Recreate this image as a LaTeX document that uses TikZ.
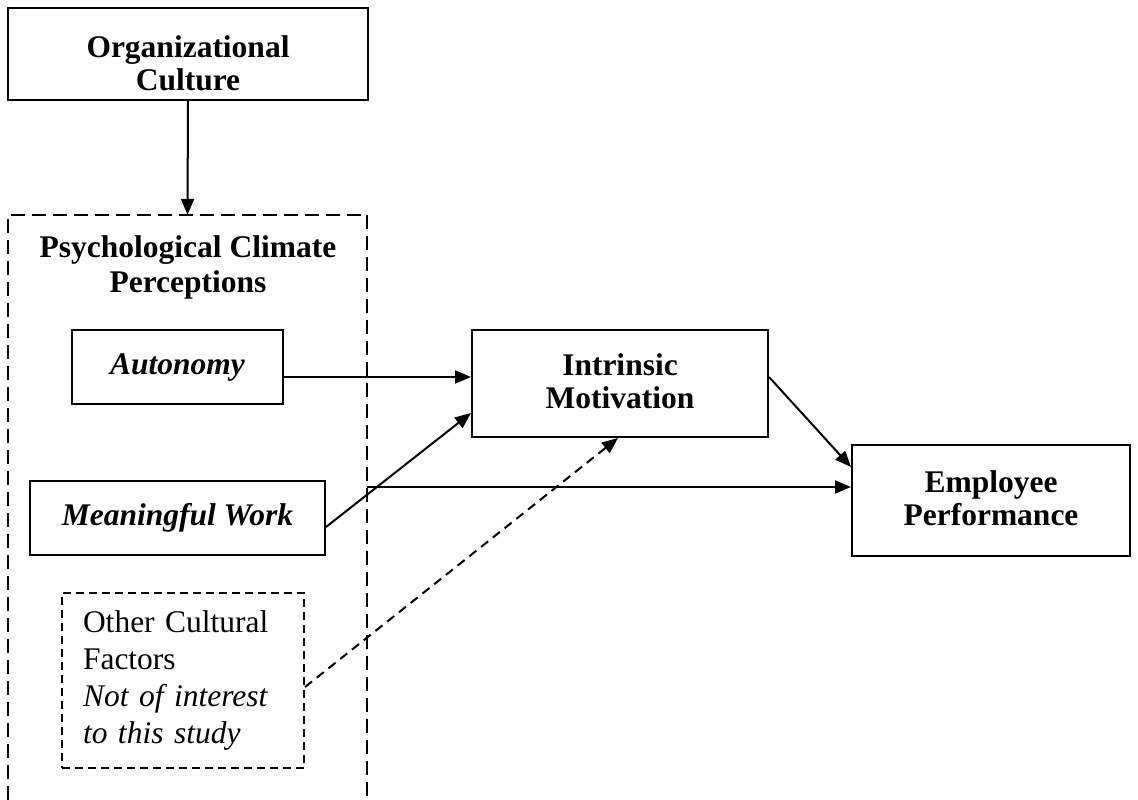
\documentclass[tikz,border=0pt]{standalone}
\usepackage{fontspec}
\setmainfont{Liberation Serif}
\usetikzlibrary{arrows.meta}
\tikzset{
  box/.style={draw, line width=2pt, rectangle, inner sep=0pt, align=center,
    font=\fontsize{31.5}{35}\selectfont\bfseries},
  lbl/.style={inner sep=0pt, align=center, font=\fontsize{31.5}{33}\selectfont\bfseries},
  conn/.style={line width=2pt, -{Triangle[length=16pt,width=13pt]}},
  bigdash/.style={line width=2pt, dash pattern=on 14pt off 7pt},
  smalldash/.style={line width=2pt, dash pattern=on 8pt off 5pt},
}
\begin{document}
\begin{tikzpicture}[x=1pt,y=-1pt]
\useasboundingbox (0,0) rectangle (1138,800);
\fill[white] (0,0) rectangle (1138,800);
\node[box, minimum width=360pt, minimum height=92pt] (org) at (188,54) {};
\node[lbl] (orgt) at (188,63) {Organizational\\Culture};
% big dashed region (extends past bottom)
\node[inner sep=0pt, minimum width=359pt, minimum height=600pt] (psyc) at (187.5,515) {};
\draw[bigdash] (psyc.west |- 0,800) -- (psyc.north west) -- (psyc.north east) -- (psyc.east |- 0,800);
\node[font=\fontsize{31.5}{35}\selectfont\bfseries, align=center] (psyt) at (188,267) {Psychological Climate\\Perceptions};
\node[box, font=\fontsize{31.5}{35}\selectfont\bfseries\itshape, minimum width=211pt, minimum height=74pt] (aut) at (177.5,367) {Autonomy};
\node[box, font=\fontsize{31.5}{35}\selectfont\bfseries\itshape, minimum width=295pt, minimum height=74pt] (mw) at (177.5,518) {Meaningful Work};
\node[smalldash, draw, rectangle, minimum width=242pt, minimum height=175pt, inner sep=0pt] (oth) at (183,680.5) {};
\node[font=\fontsize{31.5}{37}\selectfont, align=left, text width=205pt, inner sep=0pt] (otht) at (185.5,680) {Other Cultural\\Factors\\\textit{Not of interest}\\\textit{to this study}};
\node[box, minimum width=296pt, minimum height=107pt] (im) at (620,383.5) {};
\node[lbl] (imt) at (620,381) {Intrinsic\\Motivation};
\node[box, minimum width=278pt, minimum height=111pt] (ep) at (991,500.5) {};
\node[lbl] (ept) at (991,498) {Employee\\Performance};
% connectors
\draw[conn] (org.south) -- (psyc.north);
\draw[conn] (aut.east |- 0,377) -- (im.west |- 0,377);
\draw[conn] (mw.east |- 0,527) -- (im.west |- 0,413);
\draw[conn] (psyc.east |- 0,487) -- (ep.west |- 0,487);
\draw[conn] (im.east |- 0,377) -- (ep.west |- 0,467);
\draw[conn, dash pattern=on 9pt off 6pt] (oth.east |- 0,687) -- ([xshift=-2pt]im.south);
\end{tikzpicture}
\end{document}
